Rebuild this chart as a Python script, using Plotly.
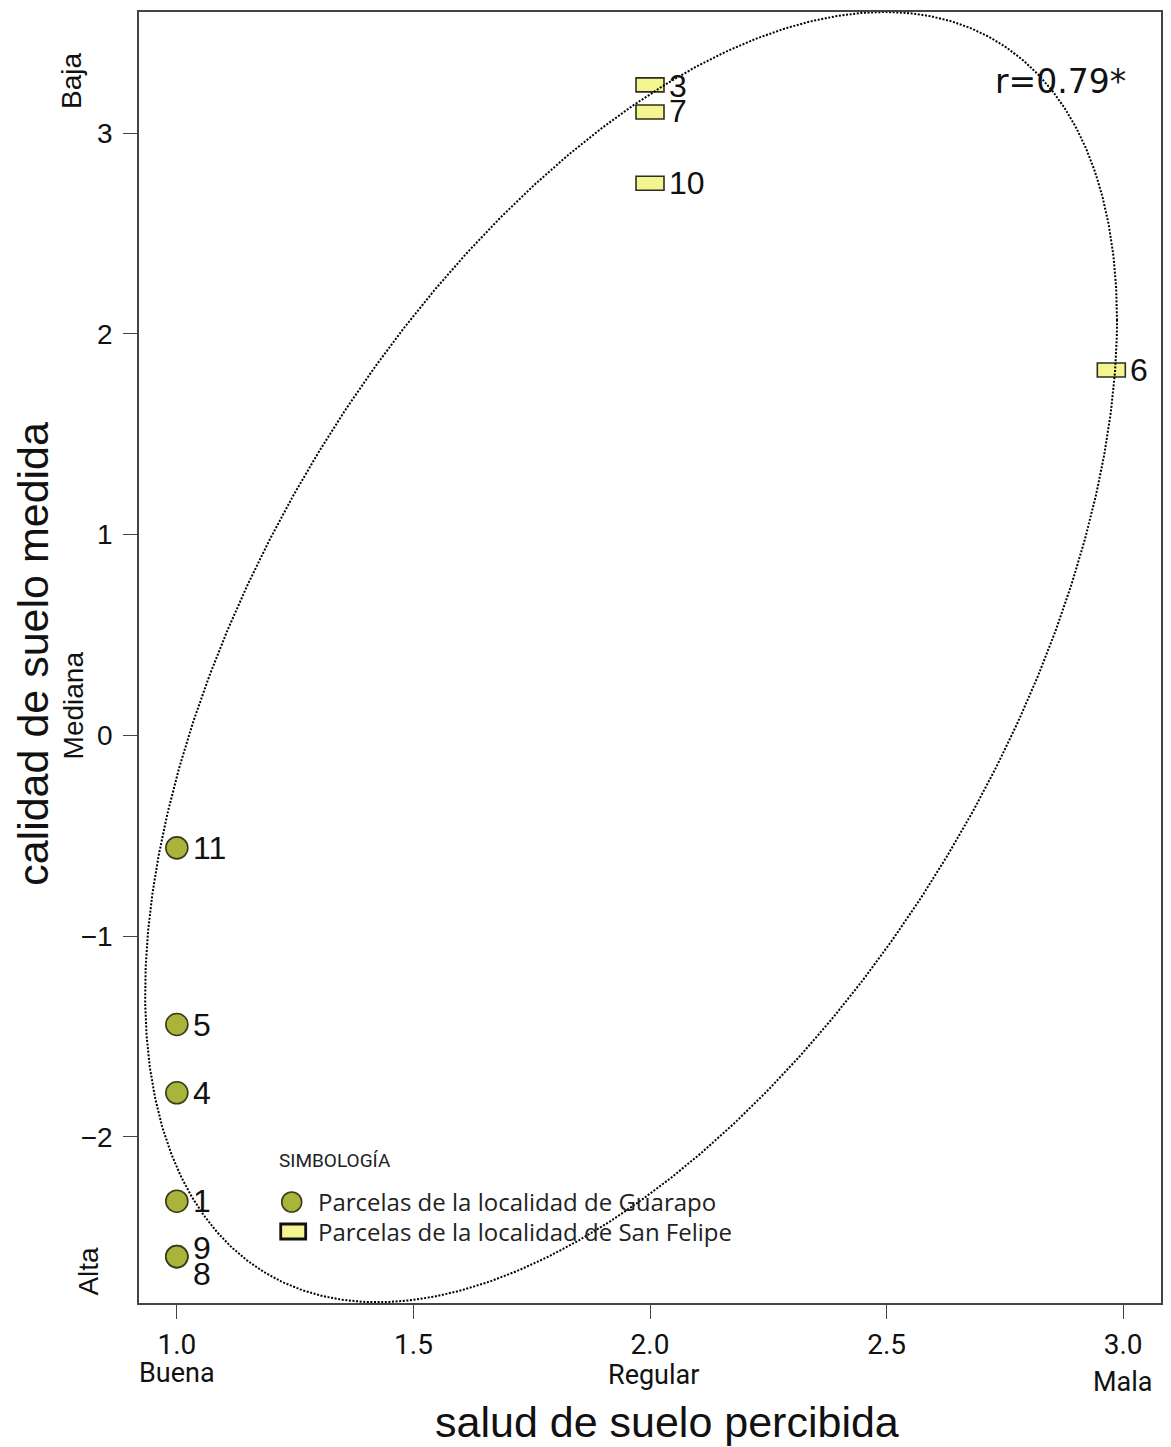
import numpy as np
import plotly.graph_objects as go

# Parcelas de la localidad de Guarapo
guarapo_ids = ["11", "5", "4", "1", "9", "8"]
guarapo_salud = [1.0, 1.0, 1.0, 1.0, 1.0, 1.0]
guarapo_calidad = [-0.56, -1.44, -1.78, -2.32, -2.596, -2.596]

# Parcelas de la localidad de San Felipe
sanfelipe_ids = ["3", "7", "10", "6"]
sanfelipe_salud = [2.0, 2.0, 2.0, 2.975]
sanfelipe_calidad = [3.24, 3.105, 2.75, 1.82]

# Ejes
x_tick_vals = [1.0, 1.5, 2.0, 2.5, 3.0]
x_tick_text = ["1.0", "1.5", "2.0", "2.5", "3.0"]
x_class_vals = [1.0, 2.0, 3.0]
x_class_text = ["Buena", "Regular", "Mala"]
y_tick_vals = [-2, -1, 0, 1, 2, 3]
y_class_text = ["Baja", "Mediana", "Alta"]

r_label = "r=0.79*"

# Elipse de correlación: centro, semiejes y desfase
ell_center = (1.96, 0.39)
ell_radii = (1.027, 3.213)
ell_phase = np.arccos(0.522)

# Desplazamientos verticales de etiquetas superpuestas (px)
label_yshift = {"9": 9, "8": -17, "3": -1, "7": 1}

ARIAL = "Liberation Sans, Arial, sans-serif"
NARROW = "Roboto, Liberation Sans, sans-serif"
HUMANIST = "Open Sans, Lato, sans-serif"

fig = go.Figure()

# Marcadores rectangulares (San Felipe), anclados a los datos
for sx, sy in zip(sanfelipe_salud, sanfelipe_calidad):
    fig.add_shape(
        type="rect", xref="x", yref="y",
        xsizemode="pixel", ysizemode="pixel",
        xanchor=sx, yanchor=sy,
        x0=-14, x1=14, y0=-7, y1=7,
        fillcolor="#f3f590", line=dict(color="#2e2e1e", width=1.6),
        layer="below",
    )

# Marcadores circulares (Guarapo)
fig.add_trace(go.Scatter(
    x=guarapo_salud, y=guarapo_calidad, mode="markers",
    marker=dict(symbol="circle", size=22, color="#a9b43a",
                line=dict(color="#3a3a1c", width=1.6)),
    showlegend=False, hoverinfo="skip",
))

# Elipse punteada
t = np.linspace(0, 2 * np.pi, 800)
ex = ell_center[0] + ell_radii[0] * np.cos(t)
ey = ell_center[1] + ell_radii[1] * np.cos(t - ell_phase)
fig.add_trace(go.Scatter(
    x=ex, y=ey, mode="lines",
    line=dict(color="black", width=2, dash="2px,1.6px"),
    showlegend=False, hoverinfo="skip",
))

annotations = []

# Etiquetas de parcelas
for ids, xs, ys, dx in ((guarapo_ids, guarapo_salud, guarapo_calidad, 14),
                        (sanfelipe_ids, sanfelipe_salud, sanfelipe_calidad, 17)):
    for lab, xv, yv in zip(ids, xs, ys):
        annotations.append(dict(
            x=xv, y=yv, xref="x", yref="y", text=lab, showarrow=False,
            xanchor="left", yanchor="middle", xshift=dx,
            yshift=label_yshift.get(lab, 0),
            font=dict(family=ARIAL, size=32, color="#111"),
        ))

# Clases del eje x
for xv, txt, ysh in zip(x_class_vals, x_class_text, [-70, -72, -79]):
    annotations.append(dict(
        x=xv, y=0, xref="x", yref="paper", text=txt, showarrow=False,
        xanchor="center", yanchor="middle", yshift=ysh, xshift=(3 if xv == 2.0 else 0),
        font=dict(family=NARROW, size=27, color="#111"),
    ))

# Clases del eje y
for txt, yv, xpx in zip(y_class_text, [3.26, 0.15, -2.67], [72, 73, 88]):
    annotations.append(dict(
        x=(xpx - 139) / 1024, y=yv, xref="paper", yref="y", text=txt,
        showarrow=False, textangle=-90, xanchor="center", yanchor="middle",
        font=dict(family=ARIAL, size=28, color="#111"),
    ))

# Títulos de ejes
annotations.append(dict(
    x=0.5166, y=-0.0922, xref="paper", yref="paper",
    text="salud de suelo percibida", showarrow=False,
    xanchor="center", yanchor="middle",
    font=dict(family=ARIAL, size=43, color="#111"),
))
annotations.append(dict(
    x=-0.1045, y=0.503, xref="paper", yref="paper",
    text="calidad de suelo medida", showarrow=False, textangle=-90,
    xanchor="center", yanchor="middle",
    font=dict(family=ARIAL, size=43, color="#111"),
))

# Coeficiente de correlación
annotations.append(dict(
    x=0.9014, y=0.9458, xref="paper", yref="paper", text=r_label,
    showarrow=False, xanchor="center", yanchor="middle",
    font=dict(family="DejaVu Sans, sans-serif", size=33, color="#111"),
))

# Simbología
annotations.append(dict(
    x=(277 - 139) / 1024, y=(1303 - 1160) / 1291, xref="paper", yref="paper",
    text="SIMBOLOGÍA", showarrow=False, xanchor="left", yanchor="middle",
    font=dict(family=NARROW, size=19, color="#222"),
))
for txt, py in (("Parcelas de la localidad de Guarapo", 1201),
                ("Parcelas de la localidad de San Felipe", 1231)):
    annotations.append(dict(
        x=(316 - 139) / 1024, y=(1303 - py) / 1291, xref="paper", yref="paper",
        text=txt, showarrow=False, xanchor="left", yanchor="middle",
        font=dict(family=HUMANIST, size=24, color="#222"),
    ))

shapes = [
    dict(type="circle", xref="paper", yref="paper",
         x0=(282 - 139) / 1024, x1=(302 - 139) / 1024,
         y0=(1303 - 1212) / 1291, y1=(1303 - 1192) / 1291,
         fillcolor="#a9b43a", line=dict(color="#3a3a1c", width=1.6)),
    dict(type="rect", xref="paper", yref="paper",
         x0=(281 - 139) / 1024, x1=(306 - 139) / 1024,
         y0=(1303 - 1239) / 1291, y1=(1303 - 1224) / 1291,
         fillcolor="#f3f590", line=dict(color="#111", width=2.8)),
]
for s in shapes:
    fig.add_shape(**s)

fig.update_layout(
    width=1171, height=1447,
    margin=dict(l=139, r=8, t=12, b=144),
    paper_bgcolor="white", plot_bgcolor="white",
    annotations=annotations,
    showlegend=False,
)
fig.update_xaxes(
    range=[0.92, 3.08], tickvals=x_tick_vals, ticktext=x_tick_text,
    showgrid=False, zeroline=False,
    showline=True, mirror=True, linecolor="#444", linewidth=1.5,
    ticks="outside", ticklen=14, tickwidth=1.2, tickcolor="#444",
    ticklabelstandoff=2,
    tickfont=dict(family=NARROW, size=28, color="#111"),
)
fig.update_yaxes(
    range=[-2.827, 3.603], tickvals=y_tick_vals,
    showgrid=False, zeroline=False,
    showline=True, mirror=True, linecolor="#444", linewidth=1.5,
    ticks="outside", ticklen=14, tickwidth=1.2, tickcolor="#444",
    ticklabelstandoff=5,
    tickfont=dict(family=ARIAL, size=28, color="#111"),
)

fig.write_html("out.html")
